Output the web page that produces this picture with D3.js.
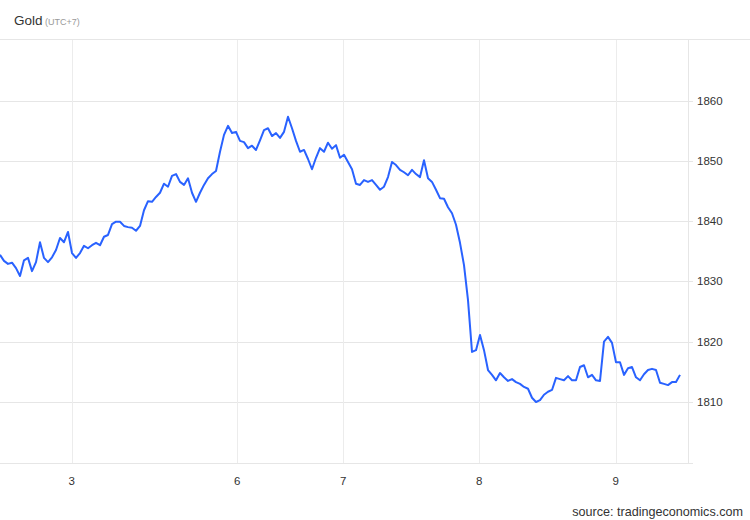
<!DOCTYPE html>
<html>
<head>
<meta charset="utf-8">
<script src="https://cdn.jsdelivr.net/npm/d3@7"></script>
<style>
  body { margin: 0; background: #fff; font-family: "Liberation Sans", Arial, sans-serif; }
</style>
</head>
<body>
<div id="chart"></div>
<script>
// gold price, sampled along the trading session index
var prices = [
  1834.4, 1833.4, 1832.9, 1833.1, 1832.2, 1830.9, 1833.5, 1833.9, 1831.7, 1833.2,
  1836.5, 1833.9, 1833.2, 1834.0, 1835.2, 1837.2, 1836.5, 1838.2, 1834.7, 1833.9,
  1834.7, 1835.9, 1835.5, 1836.0, 1836.4, 1836.0, 1837.4, 1837.7, 1839.5, 1839.9,
  1839.9, 1839.2, 1839.0, 1838.9, 1838.4, 1839.2, 1841.8, 1843.3, 1843.2, 1844.0,
  1844.7, 1846.2, 1845.7, 1847.5, 1847.8, 1846.5, 1846.0, 1847.1, 1844.7, 1843.2,
  1844.7, 1846.0, 1847.1, 1847.8, 1848.3, 1851.5, 1854.3, 1855.8, 1854.6, 1854.8,
  1853.3, 1853.1, 1852.1, 1852.5, 1851.8, 1853.4, 1855.1, 1855.4, 1854.1, 1854.6,
  1853.8, 1854.8, 1857.3, 1855.4, 1853.3, 1851.5, 1851.8, 1850.3, 1848.6, 1850.5,
  1852.1, 1851.5, 1853.0, 1852.0, 1852.6, 1850.5, 1851.0, 1849.8, 1848.6, 1846.2,
  1846.0, 1846.8, 1846.5, 1846.8, 1846.0, 1845.2, 1845.7, 1847.3, 1849.8, 1849.3,
  1848.5, 1848.1, 1847.6, 1848.5, 1847.8, 1847.3, 1850.1, 1847.1, 1846.5, 1845.2,
  1843.8, 1843.7, 1842.3, 1841.3, 1839.4, 1836.4, 1832.7, 1826.9, 1818.3, 1818.6,
  1821.1, 1818.6, 1815.3, 1814.5, 1813.6, 1814.8, 1814.1, 1813.5, 1813.8, 1813.3,
  1813.0, 1812.5, 1812.2, 1810.7, 1810.0, 1810.3, 1811.2, 1811.7, 1812.0, 1814.0,
  1813.8, 1813.6, 1814.3, 1813.6, 1813.6, 1815.8, 1816.1, 1814.1, 1814.5, 1813.6,
  1813.5, 1820.0, 1820.8, 1819.8, 1816.6, 1816.6, 1814.5, 1815.6, 1815.8, 1814.1,
  1813.6, 1814.6, 1815.3, 1815.5, 1815.3, 1813.2, 1813.0, 1812.8, 1813.3, 1813.3,
  1814.5
];

// day labels and where each day starts in the sample index
var dayLabels = ["3", "6", "7", "8", "9"];
var dayIndex = [17.9, 59.3, 85.8, 119.8, 153.9];
var yTicks = [1810, 1820, 1830, 1840, 1850, 1860];

var width = 750, height = 520;
var plot = { left: 0, right: 688, top: 39, bottom: 463 };

var svg = d3.select("#chart")
    .append("svg")
    .attr("width", width)
    .attr("height", height);

var xScale = d3.scaleLinear()
    .domain([0, 170])
    .range([0, 680]);

var yScale = d3.scaleLinear()
    .domain([1800, 1870])
    .range([462.3, 40.2]);

// horizontal grid
svg.append("g")
    .selectAll("line")
    .data(yTicks)
    .enter().append("line")
    .attr("x1", plot.left)
    .attr("x2", plot.right + 5)
    .attr("y1", function (d) { return Math.round(yScale(d)) + 0.5; })
    .attr("y2", function (d) { return Math.round(yScale(d)) + 0.5; })
    .attr("stroke", "#e6e6e6");

// vertical grid at day boundaries
svg.append("g")
    .selectAll("line")
    .data(dayIndex)
    .enter().append("line")
    .attr("x1", function (d) { return Math.round(xScale(d)) + 0.5; })
    .attr("x2", function (d) { return Math.round(xScale(d)) + 0.5; })
    .attr("y1", plot.top)
    .attr("y2", plot.bottom)
    .attr("stroke", "#ececec");

// frame: top, bottom, right
svg.append("line")
    .attr("x1", 0).attr("x2", width)
    .attr("y1", plot.top + 0.5).attr("y2", plot.top + 0.5)
    .attr("stroke", "#e6e6e6");
svg.append("line")
    .attr("x1", 0).attr("x2", plot.right + 5)
    .attr("y1", plot.bottom + 0.5).attr("y2", plot.bottom + 0.5)
    .attr("stroke", "#e6e6e6");
svg.append("line")
    .attr("x1", plot.right + 0.5).attr("x2", plot.right + 0.5)
    .attr("y1", plot.top).attr("y2", plot.bottom)
    .attr("stroke", "#e6e6e6");

// price line
var line = d3.line()
    .x(function (d, i) { return xScale(i); })
    .y(function (d) { return yScale(d); });

svg.append("path")
    .attr("d", line(prices))
    .attr("fill", "none")
    .attr("stroke", "#2962ff")
    .attr("stroke-width", 2)
    .attr("stroke-linejoin", "round");

// y labels
svg.append("g")
    .selectAll("text")
    .data(yTicks)
    .enter().append("text")
    .attr("x", 697)
    .attr("y", function (d) { return yScale(d) + 4; })
    .attr("font-size", 11.5)
    .attr("fill", "#333")
    .text(function (d) { return d; });

// x labels
svg.append("g")
    .selectAll("text")
    .data(dayIndex)
    .enter().append("text")
    .attr("x", function (d) { return xScale(d); })
    .attr("y", 485)
    .attr("text-anchor", "middle")
    .attr("font-size", 11.5)
    .attr("fill", "#333")
    .text(function (d, i) { return dayLabels[i]; });

// title
var title = svg.append("text")
    .attr("x", 14)
    .attr("y", 25)
    .attr("fill", "#333");
title.append("tspan").attr("font-size", 13.5).text("Gold");
title.append("tspan").attr("font-size", 9).attr("fill", "#999").text(" (UTC+7)");

// source
svg.append("text")
    .attr("x", 743)
    .attr("y", 516)
    .attr("text-anchor", "end")
    .attr("font-size", 12.6)
    .attr("fill", "#333")
    .text("source: tradingeconomics.com");
</script>
</body>
</html>
